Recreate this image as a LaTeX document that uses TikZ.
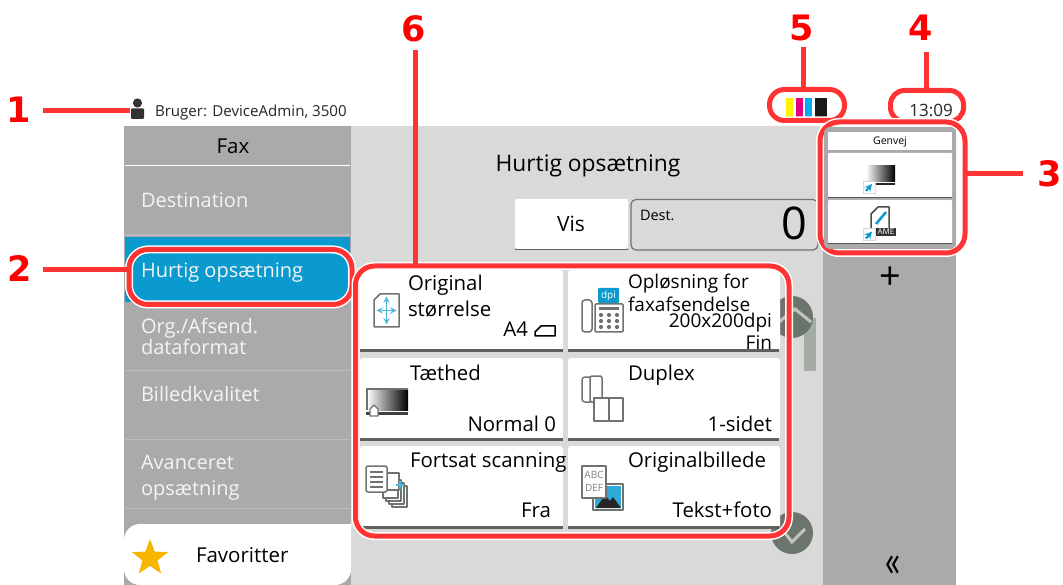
\documentclass[tikz,border=0pt]{standalone}
\usepackage{fontspec}
\setmainfont{Open Sans}
\newfontfamily\numfont{DejaVu Sans}
\usetikzlibrary{shapes.geometric}
\definecolor{panelgray}{HTML}{ABA9AB}
\definecolor{maingray}{HTML}{D9D9D9}
\definecolor{sepgray}{HTML}{BDBBBD}
\definecolor{menublue}{HTML}{0B9AD0}
\definecolor{hlred}{HTML}{FF3333}
\definecolor{numred}{HTML}{FF0000}
\definecolor{cellline}{HTML}{5C615C}
\definecolor{icongray}{HTML}{6E736E}
\definecolor{scrolldark}{HTML}{6B756B}
\definecolor{scrolllight}{HTML}{A3ADA3}
\definecolor{menutext}{HTML}{F4F4F4}
\definecolor{iconcyan}{HTML}{4DB8DC}
\definecolor{starorange}{HTML}{F7B500}
\definecolor{inkyellow}{HTML}{FFF200}
\definecolor{inkmagenta}{HTML}{E5007E}
\definecolor{inkcyan}{HTML}{00AEEF}
\newcommand{\fs}[1]{\fontsize{#1}{#1}\selectfont}
\tikzset{
  x=1pt,y=-1pt,
  every node/.style={inner sep=0pt,outer sep=0pt},
  hl/.style={draw=hlred,line width=5pt,rounded corners=19pt,inner sep=0pt,
    preaction={draw=white,line width=8pt}},
  leader/.style={draw=hlred,line width=5pt},
  num/.style={font=\numfont\bfseries\fs{35},text=numred},
  celltext/.style={font=\fs{20.4},text=black},
  smalltext/.style={font=\fs{19},text=black},
  menuitem/.style={font=\fs{20},text=menutext,anchor=base west},
  lbl/.style={celltext,anchor=base west},
  rlbl/.style={celltext,anchor=base east},
  slbl/.style={smalltext,anchor=base west},
  srlbl/.style={smalltext,anchor=base east},
  cell/.style={fill=white},
  icon/.style={draw=icongray,line width=1.5pt,fill=white,line join=round},
  badge/.style={draw=maingray,line width=.8pt,fill=white},
  sep/.style={draw=sepgray,line width=1pt},
}
\begin{document}
\begin{tikzpicture}
\useasboundingbox (0,0) rectangle (1063,585);
\fill[white] (0,0) rectangle (1063,585);
% panels
\fill[maingray] (351,126) rectangle (823,585);
\fill[panelgray] (124,126) rectangle (351,585);
\fill[panelgray] (823,127) rectangle (956,585);
\draw[white,line width=1.2pt] (125,165.5) -- (350,165.5);
\draw[sep,line width=1.6pt] (125,235) -- (350,235);
\draw[sep] (125,370.5) -- (350,370.5);
\draw[sep] (125,439.5) -- (350,439.5);
\draw[sep] (125,508.5) -- (350,508.5);
\fill[menublue] (125,237) rectangle (350,302);
\fill[white,rounded corners=16pt] (124,524) -- (340,524) .. controls (347,524) and (351,528) .. (351,535) -- (351,585) -- (124,585) -- cycle;
% user line
\fill[black!80] (137.5,103) circle (4.6);
\fill[black!80,rounded corners=1pt] (131,108.5) rectangle (144,119);
\node[anchor=base west,font=\fs{15.1},text=black!85] (user) at (155,117) {Bruger: DeviceAdmin, 3500};
\node[font=\fs{20.5}] (fax) at (233,146) {Fax};
\node[menuitem] (m1) at (141,207.5) {Destination};
\node[menuitem] (m2) at (141,278) {Hurtig opsætning};
\node[menuitem] (m3) at (141,334) {Org./Afsend.};
\node[menuitem] (m3b) at (141,354) {dataformat};
\node[menuitem] (m4) at (141,401) {Billedkvalitet};
\node[menuitem] (m5) at (141,469) {Avanceret};
\node[menuitem] (m5b) at (141,495) {opsætning};
\node[star,star points=5,star point ratio=2.4,minimum size=38pt,fill=starorange] (star) at (150,558) {};
\node[anchor=base west,font=\fs{20.5}] (fav) at (196,562) {Favoritter};
% top of main
\node[font=\fs{22.8}] (title) at (588,166) {Hurtig opsætning};
\fill[cellline] (515,201) rectangle (628,250);
\fill[white,rounded corners=1pt] (515,199) rectangle (628,248.8);
\node[font=\fs{21}] (vis) at (571,224) {Vis};
\draw[draw=icongray,line width=1.2pt,fill=maingray,rounded corners=5pt] (631,199.5) rectangle (818,250);
\node[anchor=base west,font=\fs{14.5}] (dest) at (640,220.5) {Dest.};
\node[anchor=base east,font=\fs{45}] (zero) at (807,239.5) {0};
% scroll elements
\fill[scrolllight] (804,318) rectangle (816,371);
\fill[scrolldark] (792,317) circle (21);
\draw[scrolllight!70!white,line width=3pt] (779,322) -- (795,309) -- (811,322);
\fill[scrolldark] (792,533) circle (21);
\draw[scrolllight!70!white,line width=3pt] (785,533) -- (792,542) -- (805,529);
% cells
\fill[cell,rounded corners=3pt] (360,270) rectangle (563,351);
\fill[cell,rounded corners=3pt] (568,270) rectangle (780,351);
\fill[cell,rounded corners=3pt] (360,358) rectangle (563,440);
\fill[cell,rounded corners=3pt] (568,358) rectangle (780,440);
\fill[cell,rounded corners=3pt] (360,446) rectangle (563,528);
\fill[cell,rounded corners=3pt] (568,446) rectangle (780,528);
\foreach \yy in {350.5,439.5,527.5}{
  \draw[cellline,line width=2.5pt] (360,\yy) -- (563,\yy);
  \draw[cellline,line width=2.5pt] (568,\yy) -- (779,\yy);
}
% cell texts
\node[lbl] (c1a) at (408,291) {Original};
\node[lbl] (c1b) at (408,317) {størrelse};
\node[rlbl] (c1c) at (528,337) {A4};
\node[slbl] (c2a) at (628,289) {Opløsning for};
\node[slbl] (c2b) at (628,312) {faxafsendelse};
\node[srlbl] (c2c) at (772,327) {200x200dpi};
\node[srlbl] (c2d) at (772,349) {Fin};
\node[lbl] (c3a) at (410,380) {Tæthed};
\node[rlbl] (c3b) at (556,431) {Normal 0};
\node[lbl] (c4a) at (628,381) {Duplex};
\node[rlbl] (c4b) at (772,431) {1-sidet};
\node[lbl] (c5a) at (410,467) {Fortsat scanning};
\node[rlbl] (c5b) at (551,517) {Fra};
\node[lbl] (c6a) at (628,467) {Originalbillede};
\node[rlbl] (c6b) at (772,517) {Tekst+foto};
% icon: A4 landscape
\draw[black,line width=1.5pt,line join=round] (535,336) -- (535,332) -- (541,326) -- (555,326) -- (555,336) -- cycle;
% icon: original size
\draw[icon] (374,300) -- (380,294) -- (399,294) -- (399,327) -- (374,327) -- cycle;
\draw[iconcyan,line width=1.8pt,<->,>=stealth] (376.5,310.5) -- (396.5,310.5);
\draw[iconcyan,line width=1.8pt,<->,>=stealth] (386.5,296.5) -- (386.5,324.5);
% icon: fax
\draw[icon,rounded corners=3pt] (582,300) rectangle (592,332);
\draw[icon,rounded corners=1pt] (595,304) rectangle (623,332);
\fill[menublue,rounded corners=1pt] (598,288) rectangle (619,303);
\node[font=\fs{10},text=white] (dpi) at (608.5,295.5) {dpi};
\fill[icongray] (599,307) rectangle (619,310);
\foreach \xx in {601,609,617}{\foreach \yy in {315,321,327}{\fill[icongray] (\xx,\yy) circle (2.1);}}
% icon: density
\fill[left color=white,right color=black] (367,389) rectangle (408,410);
\draw[icongray,line width=1.2pt] (367,410) -- (367,389) -- (408,389);
\fill[black!75] (366,412) rectangle (408,415);
\draw[icon,line width=1.1pt] (370,416) -- (370,409) -- (374,405) -- (378,409) -- (378,416) -- cycle;
% icon: duplex
\draw[icon,rounded corners=3pt] (582,377) rectangle (593,402);
\draw[icon,rounded corners=2pt] (590,376) rectangle (602,402);
\draw[icon] (594,398) rectangle (609,421);
\draw[icon] (609,398) rectangle (623,421);
% icon: continuous scan
\foreach \dd in {12,9,6,3}{\draw[icon,line width=1.2pt] (380+\dd,474+\dd) rectangle (395+\dd,495+\dd);}
\draw[icon,line width=1.2pt] (381,473) rectangle (399,490);
\draw[iconcyan,line width=1.5pt] (396,485) -- (404,485) (400,481) -- (400,489);
\draw[icon,rounded corners=2pt] (366,466) rectangle (387,492);
\foreach \yy in {472,477,482,487}{\draw[icongray,line width=1.1pt] (370,\yy) -- (383,\yy);}
% icon: original image
\draw[icon] (593,484) rectangle (623,510);
\fill[menublue!85!white] (595,486) rectangle (621,508);
\fill[black!85] (596,508) -- (605,495) -- (610,501) -- (613,497) -- (621,508) -- cycle;
\draw[icon] (582,466) rectangle (606,498);
\node[font=\fs{10},text=black!50] (abc) at (594,475) {ABC};
\node[font=\fs{10},text=black!50] (def) at (594,488) {DEF};
% highlight 4 first, so 3 overlaps it
\node[font=\fs{17},text=black!85] (clock) at (931,110) {13:09};
\node[hl,rounded corners=14pt,minimum width=73pt,minimum height=31pt] (hl4) at (927,106) {};
% ink
\fill[inkyellow] (786,98) rectangle (793,117);
\fill[inkmagenta] (796,98) rectangle (803,117);
\fill[inkcyan] (805,98) rectangle (812,117);
\fill[black!90] (815,98) rectangle (827,117);
\node[hl,rounded corners=15pt,minimum width=75pt,minimum height=31pt] (hl5) at (807,105) {};
% highlight 2
\node[hl,minimum width=223pt,minimum height=55pt] (hl2) at (240.5,277) {};
% highlight 6
\node[hl,minimum width=433.5pt,minimum height=270pt] (hl6) at (572.25,401) {};
% highlight 3
\node[hl,fill=none,minimum width=145pt,minimum height=131pt] (hl3) at (892.5,187.5) {};
\fill[panelgray,rounded corners=6pt] (824,127) rectangle (956,249);
\fill[white] (828,132) rectangle (952,150);
\fill[white,rounded corners=1pt] (828,153) rectangle (952,197);
\fill[white,rounded corners=1pt] (828,200) rectangle (952,243);
\draw[black!65,line width=1.2pt] (828,197.8) -- (952,197.8);
\draw[black!65,line width=1.2pt] (828,243.8) -- (952,243.8);
\node[font=\fs{10.5}] (genvej) at (890,142) {Genvej};
\fill[left color=white,right color=black] (866,166) rectangle (895,182);
\fill[black!85] (866,183) rectangle (895,185);
\node[badge,minimum size=12pt] (b1) at (869,187) {};
\draw[menublue,line width=2.2pt,->,>=stealth] (866,191) -- (872,184);
\draw[icon,draw=black!70] (871,214) -- (878,207) -- (889,207) -- (889,232) -- (871,232) -- cycle;
\draw[menublue,line width=2.5pt] (876,224) -- (886,212);
\fill[black!80] (875,228) rectangle (896,236);
\node[font=\fs{8},text=white] (ame) at (886,232) {AME};
\node[badge,minimum size=12pt] (b2) at (869,234.5) {};
\draw[menublue,line width=2.2pt,->,>=stealth] (866,238.5) -- (872,231.5);
% right panel symbols
\node[font=\fs{38}] (plus) at (890,278) {+};
\node[font=\fs{44}] (back) at (893,566) {\scalebox{0.68}[1]{«}};
% number labels and leaders
\node[num] (n1) at (19,110) {1};
\node[num] (n2) at (20,269) {2};
\node[num] (n3) at (1050,174) {3};
\node[num] (n4) at (921,28) {4};
\node[num] (n5) at (802,28) {5};
\node[num] (n6) at (414,29) {6};
\coordinate (l1) at (43,111);
\coordinate (u1) at (130,111);
\coordinate (l2) at (43,270);
\coordinate (l3) at (1023,174);
\coordinate (l4) at (926,52);
\coordinate (l5) at (803,47);
\coordinate (l6) at (415,50);
\draw[leader] (l1) -- (u1);
\draw[leader] (l2) -- (l2 -| hl2.west);
\draw[leader] (l3) -- (l3 -| hl3.east);
\draw[leader] (l4) -- (l4 |- hl4.north);
\draw[leader] (l5) -- (l5 |- hl5.north);
\draw[leader] (l6) -- (l6 |- hl6.north);
\end{tikzpicture}
\end{document}
